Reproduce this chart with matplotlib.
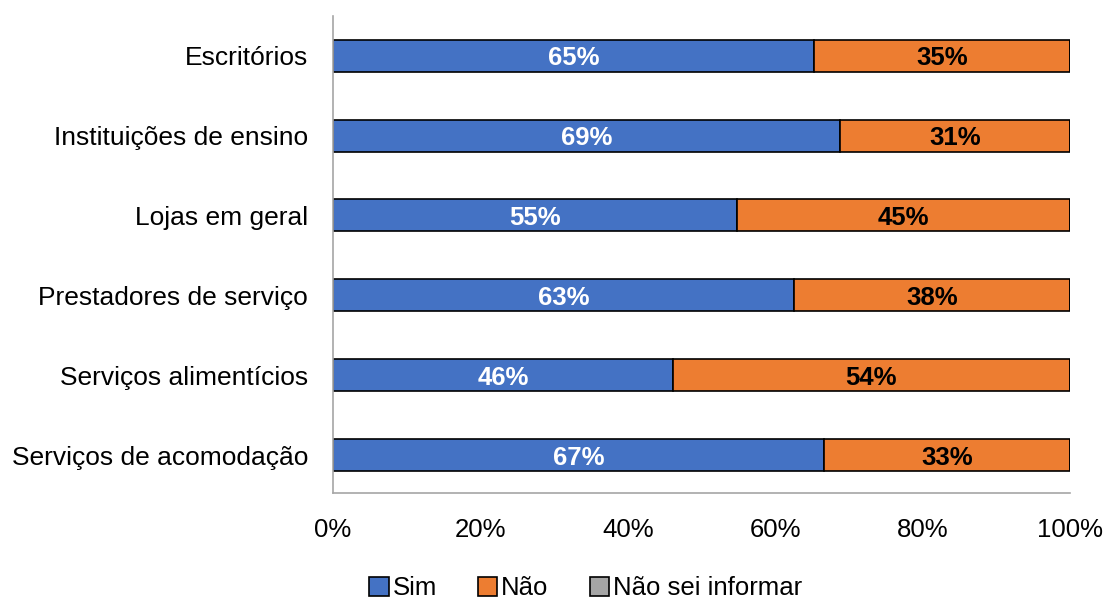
import numpy as np
import matplotlib as mpl
import matplotlib.pyplot as plt

mpl.use('Agg')
plt.rcParams['font.family'] = ['Liberation Sans', 'DejaVu Sans']

categorias = ["Escritórios", "Instituições de ensino", "Lojas em geral",
              "Prestadores de serviço", "Serviços alimentícios",
              "Serviços de acomodação"]
sim = [65.3, 68.8, 54.8, 62.5, 46.1, 66.6]
nao = [34.7, 31.2, 45.2, 37.5, 53.9, 33.4]
nao_sei = [0, 0, 0, 0, 0, 0]
rotulos_sim = ["65%", "69%", "55%", "63%", "46%", "67%"]
rotulos_nao = ["35%", "31%", "45%", "38%", "54%", "33%"]

fig = plt.figure(figsize=(11.07, 5.99), dpi=100)
ax = fig.add_axes([0.3008, 0.177, 0.6658, 0.797])

y = np.arange(len(categorias))
altura = 0.4
ax.barh(y, sim, height=altura, color='#4472C4', edgecolor='black', linewidth=1.2, label='Sim')
ax.barh(y, nao, left=sim, height=altura, color='#ED7D31', edgecolor='black', linewidth=1.2, label='Não')
esq = np.array(sim) + np.array(nao)
ax.barh(y, nao_sei, left=esq, height=altura, color='#A5A5A5', edgecolor='black', linewidth=1.2, label='Não sei informar')

for i in range(len(categorias)):
    ax.text(sim[i] / 2, y[i], rotulos_sim[i], ha='center', va='center_baseline',
            color='white', fontsize=18.5, fontweight='bold')
    ax.text(sim[i] + nao[i] / 2, y[i], rotulos_nao[i], ha='center', va='center_baseline',
            color='black', fontsize=18.5, fontweight='bold')

ax.set_xlim(0, 100)
ax.set_ylim(len(categorias) - 0.53, -0.5)
ax.set_yticks(y)
ax.set_yticklabels(categorias, fontsize=19)
ax.set_xticks(np.arange(0, 101, 20))
ax.set_xticklabels(["{}%".format(v) for v in range(0, 101, 20)], fontsize=18.5)
ax.tick_params(axis='y', length=0, pad=18)
ax.tick_params(axis='x', length=0, pad=18)
for s in ['top', 'right']:
    ax.spines[s].set_visible(False)
for s in ['left', 'bottom']:
    ax.spines[s].set_color('#A6A6A6')
    ax.spines[s].set_linewidth(1.2)

ax.legend(loc='center', bbox_to_anchor=(0.529, 0.018), ncol=3, frameon=False,
          fontsize=18.5, handlelength=0.75, handleheight=0.75, handletextpad=0.15,
          columnspacing=1.6, bbox_transform=fig.transFigure)

plt.savefig('out.png', dpi=100)
